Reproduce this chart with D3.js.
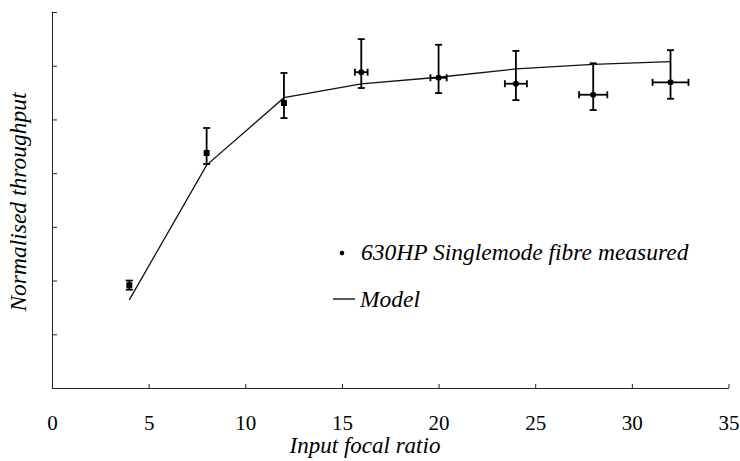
<!DOCTYPE html>
<html>
<head>
<meta charset="utf-8">
<script src="https://cdnjs.cloudflare.com/ajax/libs/d3/7.8.5/d3.min.js"></script>
<style>
  body { margin: 0; background: #fff; }
</style>
</head>
<body>
<div id="chart"></div>
<script>
// measured points (focal ratio, normalised throughput, error bars)
const focalRatio = [4, 8, 12, 16, 20, 24, 28, 32];
const measured = [0.383, 0.875, 1.061, 1.176, 1.155, 1.133, 1.092, 1.138];
const measuredHigh = [0.400, 0.968, 1.173, 1.299, 1.278, 1.255, 1.209, 1.258];
const measuredLow = [0.366, 0.834, 1.005, 1.117, 1.098, 1.072, 1.035, 1.077];
const xErr = [0, 0.1, 0.2, 0.33, 0.42, 0.57, 0.73, 0.93];

// model curve
const modelRatio = [4, 8, 12, 16, 20, 24, 28, 32];
const modelValue = [0.328, 0.830, 1.081, 1.132, 1.157, 1.188, 1.205, 1.215];

const xTicks = [0, 5, 10, 15, 20, 25, 30, 35];
const yTicks = [0, 0.2, 0.4, 0.6, 0.8, 1.0, 1.2, 1.4];

const serif = "Liberation Serif";

// svg set up
let svgWidth = 740;
let svgHeight = 461;

let svg = d3.select("#chart")
    .append("svg")
    .attr("width", svgWidth)
    .attr("height", svgHeight);

let x = d3.scaleLinear().domain([0, 35]).range([52, 728.5]);
let y = d3.scaleLinear().domain([0, 1.4]).range([388, 12]);

// x axis, ticks pointing inward
let xAxis = svg.append("g")
    .attr("transform", `translate(0,${y(0)})`)
    .call(d3.axisBottom(x).tickValues(xTicks).tickSize(-4).tickSizeOuter(0).tickPadding(27));
xAxis.attr("font-family", serif);
xAxis.selectAll("text")
    .attr("font-family", serif)
    .attr("font-size", 21)
    .attr("fill", "#000");

// y axis, no labels
svg.append("g")
    .attr("transform", `translate(${x(0)},0)`)
    .call(d3.axisLeft(y).tickValues(yTicks).tickSize(-5).tickSizeOuter(0).tickFormat(""));

svg.selectAll(".domain, .tick line").attr("stroke", "#222").attr("stroke-width", 1);

// model line
let points = modelRatio.map((r, i) => [r, modelValue[i]]);
svg.append("path")
    .datum(points)
    .attr("fill", "none")
    .attr("stroke", "#111")
    .attr("stroke-width", 1.3)
    .attr("d", d3.line().x(d => x(d[0])).y(d => y(d[1])));

// error bars
let data = focalRatio.map((r, i) => ({
    r: r, v: measured[i], hi: measuredHigh[i], lo: measuredLow[i], xe: xErr[i]
}));
let bars = svg.append("g").attr("stroke", "#000").attr("stroke-width", 1.8);

bars.selectAll(".vbar").data(data).enter().append("line")
    .attr("x1", d => x(d.r)).attr("x2", d => x(d.r))
    .attr("y1", d => y(d.hi)).attr("y2", d => y(d.lo));
bars.selectAll(".capHi").data(data).enter().append("line")
    .attr("x1", d => x(d.r) - 3.5).attr("x2", d => x(d.r) + 3.5)
    .attr("y1", d => y(d.hi)).attr("y2", d => y(d.hi));
bars.selectAll(".capLo").data(data).enter().append("line")
    .attr("x1", d => x(d.r) - 3.5).attr("x2", d => x(d.r) + 3.5)
    .attr("y1", d => y(d.lo)).attr("y2", d => y(d.lo));

let withX = data.filter(d => d.xe > 0.25);
bars.selectAll(".hbar").data(withX).enter().append("line")
    .attr("x1", d => x(d.r - d.xe)).attr("x2", d => x(d.r + d.xe))
    .attr("y1", d => y(d.v)).attr("y2", d => y(d.v));
bars.selectAll(".capL").data(withX).enter().append("line")
    .attr("x1", d => x(d.r - d.xe)).attr("x2", d => x(d.r - d.xe))
    .attr("y1", d => y(d.v) - 3.5).attr("y2", d => y(d.v) + 3.5);
bars.selectAll(".capR").data(withX).enter().append("line")
    .attr("x1", d => x(d.r + d.xe)).attr("x2", d => x(d.r + d.xe))
    .attr("y1", d => y(d.v) - 3.5).attr("y2", d => y(d.v) + 3.5);

// markers: small squares for the first points, dots for the rest
svg.selectAll(".pt").data(data).enter().append("rect")
    .attr("x", d => x(d.r) - 3)
    .attr("y", d => y(d.v) - 3)
    .attr("width", 6)
    .attr("height", 6)
    .attr("rx", d => d.xe > 0.25 ? 3 : 0.5)
    .attr("fill", "#000");

// axis titles
svg.append("text")
    .attr("x", 365)
    .attr("y", 453)
    .attr("text-anchor", "middle")
    .attr("font-family", serif)
    .attr("font-style", "italic")
    .attr("font-size", 23)
    .text("Input focal ratio");

svg.append("text")
    .attr("transform", "rotate(-90)")
    .attr("x", -202)
    .attr("y", 26)
    .attr("text-anchor", "middle")
    .attr("font-family", serif)
    .attr("font-style", "italic")
    .attr("font-size", 23.5)
    .text("Normalised throughput");

// legend
let legend = svg.append("g");
legend.append("circle")
    .attr("cx", 342).attr("cy", 253).attr("r", 2.3).attr("fill", "#000");
legend.append("text")
    .attr("x", 361).attr("y", 260)
    .attr("font-family", serif)
    .attr("font-style", "italic").attr("font-size", 23.5)
    .text("630HP Singlemode fibre measured");
legend.append("line")
    .attr("x1", 333).attr("x2", 355).attr("y1", 299).attr("y2", 299)
    .attr("stroke", "#000").attr("stroke-width", 1.3);
legend.append("text")
    .attr("x", 360).attr("y", 307)
    .attr("font-family", serif)
    .attr("font-style", "italic").attr("font-size", 23.5)
    .text("Model");
</script>
</body>
</html>
